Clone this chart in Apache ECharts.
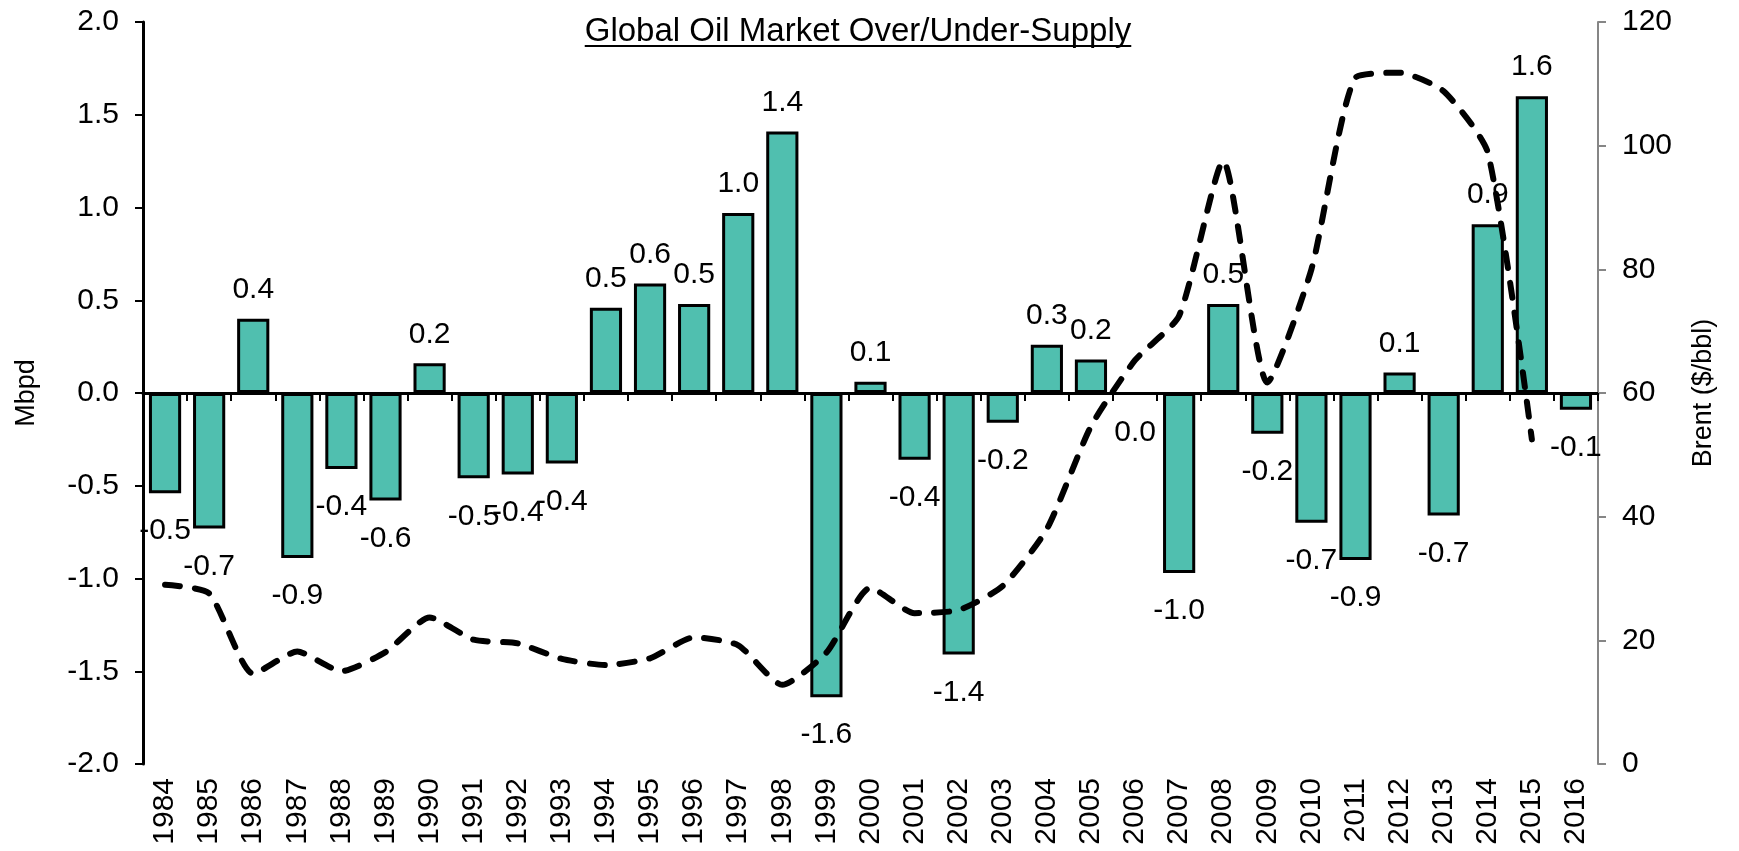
<!DOCTYPE html>
<html>
<head>
<meta charset="utf-8">
<script src="https://cdn.jsdelivr.net/npm/echarts@6/dist/echarts.min.js"></script>
<style>
html,body{margin:0;padding:0;background:#ffffff;}
#chart{width:1739px;height:851px;}
</style>
</head>
<body>
<div id="chart"></div>
<script>
const titleText = 'Global Oil Market Over/Under-Supply';
const leftAxisName = 'Mbpd';
const rightAxisName = 'Brent ($/bbl)';

const years = ['1984','1985','1986','1987','1988','1989','1990','1991','1992','1993','1994',
  '1995','1996','1997','1998','1999','2000','2001','2002','2003','2004','2005','2006','2007',
  '2008','2009','2010','2011','2012','2013','2014','2015','2016'];

// Market balance, Mbpd (bars)
const balance = [-0.54, -0.73, 0.40, -0.89, -0.41, -0.58, 0.16, -0.46, -0.44, -0.38, 0.46,
  0.59, 0.48, 0.97, 1.41, -1.64, 0.06, -0.36, -1.41, -0.16, 0.26, 0.18, -0.005, -0.97,
  0.48, -0.22, -0.70, -0.90, 0.11, -0.66, 0.91, 1.60, -0.09];

// Brent price, $/bbl (dashed line)
const brent = [29.0, 27.6, 14.6, 18.2, 15.0, 18.1, 23.7, 20.1, 19.5, 17.0, 16.0,
  17.1, 20.5, 19.2, 12.8, 18.0, 28.5, 24.4, 24.9, 28.8, 38.0, 54.6, 65.3, 72.5,
  97.5, 61.7, 80.0, 111.0, 111.8, 108.8, 98.9, 52.5, null];

const FONT = '"Liberation Sans", Arial, Helvetica, sans-serif';
const TITLE_SIZE = 33;
const LABEL_SIZE = 30;

function fmt(v) {
  const s = v.toFixed(1);
  return (s === '-0.0') ? '0.0' : s;
}

// measure title width for underline
const cv = document.createElement('canvas').getContext('2d');
cv.font = TITLE_SIZE + 'px ' + FONT;
const titleW = cv.measureText(titleText).width;
const titleCX = 858;

const chart = echarts.init(document.getElementById('chart'), null, {renderer: 'canvas'});

const option = {
  backgroundColor: '#ffffff',
  animation: false,
  textStyle: {fontFamily: FONT, color: '#000'},
  graphic: [
    {
      type: 'text', left: titleCX - titleW / 2, top: 15,
      style: {text: titleText, font: TITLE_SIZE + 'px ' + FONT, fill: '#000'}
    },
    {
      type: 'line',
      shape: {x1: titleCX - titleW / 2, y1: 46, x2: titleCX + titleW / 2, y2: 46},
      style: {stroke: '#000', lineWidth: 2}
    }
  ],
  grid: {left: 143, right: 141, top: 22, bottom: 87, containLabel: false, outerBoundsMode: 'none'},
  xAxis: [
    {
      type: 'category', data: years, position: 'bottom', boundaryGap: true,
      axisLine: {show: false, onZero: false},
      axisTick: {show: false},
      axisLabel: {rotate: 90, interval: 0, margin: 14, fontSize: LABEL_SIZE, color: '#000', fontFamily: FONT},
      splitLine: {show: false}
    },
    {
      type: 'category', data: years, position: 'bottom', boundaryGap: true,
      axisLine: {show: true, onZero: true, lineStyle: {color: '#000', width: 3}},
      axisTick: {show: true, interval: 0, length: 8, lineStyle: {color: '#000', width: 2}},
      axisLabel: {show: false},
      splitLine: {show: false}
    }
  ],
  yAxis: [
    {
      type: 'value', min: -2, max: 2, interval: 0.5, position: 'left',
      name: leftAxisName, nameLocation: 'middle', nameGap: 103, nameRotate: 90,
      nameTextStyle: {fontSize: 27, color: '#000', fontFamily: FONT},
      axisLine: {show: true, onZero: false, lineStyle: {color: '#000', width: 3}},
      axisTick: {show: true, length: 8, lineStyle: {color: '#000', width: 2}},
      axisLabel: {fontSize: LABEL_SIZE, color: '#000', margin: 24, fontFamily: FONT, formatter: v => v.toFixed(1)},
      splitLine: {show: false}
    },
    {
      type: 'value', min: 0, max: 120, interval: 20, position: 'right',
      name: rightAxisName, nameLocation: 'middle', nameGap: 92, nameRotate: 90,
      nameTextStyle: {fontSize: 27, color: '#000', fontFamily: FONT},
      axisLine: {show: true, onZero: false, lineStyle: {color: '#868686', width: 2}},
      axisTick: {show: true, length: 8, lineStyle: {color: '#868686', width: 2}},
      axisLabel: {fontSize: LABEL_SIZE, color: '#000', margin: 24, fontFamily: FONT},
      splitLine: {show: false}
    }
  ],
  series: [
    {
      type: 'bar', name: 'Balance', xAxisIndex: 0, yAxisIndex: 0,
      barCategoryGap: '27%',
      data: balance.map(v => ({
        value: v,
        label: {position: v < 0 ? 'bottom' : 'top', distance: v < 0 ? 23 : 14}
      })),
      itemStyle: {color: '#50BFAF', borderColor: '#000', borderWidth: 3},
      label: {show: true, fontSize: LABEL_SIZE, color: '#000', fontFamily: FONT,
        formatter: p => fmt(p.value)},
      z: 2
    },
    {
      type: 'line', name: 'Brent', xAxisIndex: 0, yAxisIndex: 1,
      data: brent, smooth: 0.2, symbol: 'none', connectNulls: false,
      lineStyle: {color: '#000', width: 6, type: [15, 15], cap: 'round'},
      z: 3
    }
  ]
};
chart.setOption(option);
</script>
</body>
</html>
